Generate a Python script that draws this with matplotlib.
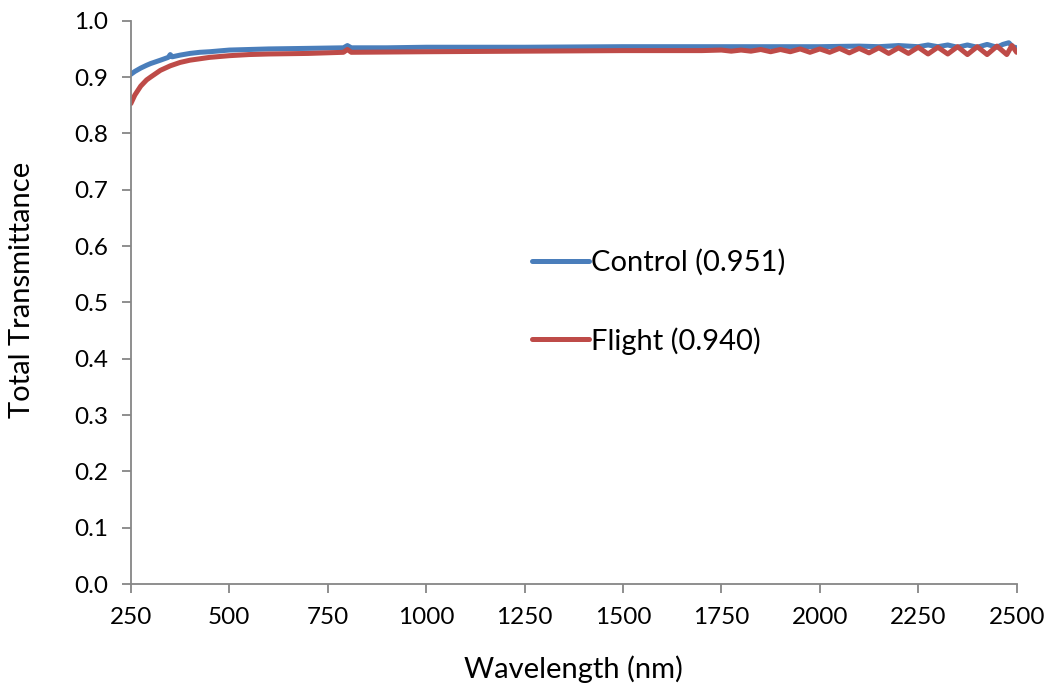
import matplotlib.pyplot as plt

# Spectral data (wavelength in nm, total transmittance)
control_wl = [250, 260, 275, 290, 300, 325, 345, 350, 355, 375, 400, 425, 450, 500,
              550, 600, 700, 790, 800, 810, 900, 1000, 1250, 1500, 1750, 2000,
              2100, 2150, 2200, 2250, 2275, 2300, 2325, 2350, 2375, 2400, 2425,
              2450, 2465, 2480, 2490, 2500]
control_t = [0.905, 0.910, 0.916, 0.921, 0.924, 0.930, 0.935, 0.940, 0.936, 0.939,
             0.942, 0.944, 0.945, 0.948, 0.949, 0.950, 0.951, 0.952, 0.956, 0.952,
             0.952, 0.953, 0.953, 0.954, 0.954, 0.954, 0.955, 0.954, 0.956, 0.954,
             0.957, 0.954, 0.957, 0.953, 0.957, 0.953, 0.958, 0.953, 0.958, 0.961,
             0.954, 0.952]

flight_wl = [250, 260, 275, 290, 300, 325, 350, 375, 400, 450, 500, 550, 600, 700,
             790, 800, 810, 1000, 1250, 1500, 1700, 1750, 1775, 1800, 1825, 1850,
             1875, 1900, 1925, 1950, 1975, 2000, 2025, 2050, 2075, 2100, 2125, 2150,
             2175, 2200, 2225, 2250, 2275, 2300, 2325, 2350, 2375, 2400, 2425, 2450,
             2475, 2488, 2500]
flight_t = [0.853, 0.868, 0.884, 0.895, 0.900, 0.912, 0.920, 0.926, 0.930, 0.935,
            0.938, 0.940, 0.941, 0.942, 0.944, 0.949, 0.944, 0.945, 0.946, 0.947,
            0.947, 0.948, 0.946, 0.948, 0.946, 0.949, 0.945, 0.949, 0.945, 0.950,
            0.944, 0.950, 0.944, 0.951, 0.943, 0.951, 0.943, 0.952, 0.942, 0.952,
            0.942, 0.953, 0.941, 0.953, 0.941, 0.954, 0.940, 0.954, 0.940, 0.955,
            0.940, 0.956, 0.944]

x_ticks = [250, 500, 750, 1000, 1250, 1500, 1750, 2000, 2250, 2500]
y_ticks = [0.0, 0.1, 0.2, 0.3, 0.4, 0.5, 0.6, 0.7, 0.8, 0.9, 1.0]

plt.rcParams['font.family'] = ['Lato', 'DejaVu Sans']

fig = plt.figure(figsize=(10.47, 6.92), dpi=100)
ax = fig.add_axes([0.125, 0.156, 0.846, 0.814])

ax.plot(control_wl, control_t, color='#4a7ebb', lw=3.6, solid_joinstyle='round',
        solid_capstyle='round', label='Control (0.951)')
ax.plot(flight_wl, flight_t, color='#be4b48', lw=3.6, solid_joinstyle='round',
        solid_capstyle='round', label='Flight (0.940)')

ax.set_xlim(250, 2500)
ax.set_ylim(0, 1.0)
ax.set_xticks(x_ticks)
ax.set_xticklabels([str(t) for t in x_ticks])
ax.set_yticks(y_ticks)
ax.set_yticklabels([f'{t:.1f}' for t in y_ticks])

for side in ['top', 'right']:
    ax.spines[side].set_visible(False)
for side in ['left', 'bottom']:
    ax.spines[side].set_color('#868686')
    ax.spines[side].set_linewidth(1.3)
ax.tick_params(direction='out', length=6.5, width=1.3, color='#868686',
               labelsize=17.5, pad=10)

ax.set_xlabel('Wavelength (nm)', fontsize=21)
ax.set_ylabel('Total Transmittance', fontsize=21)
ax.xaxis.set_label_coords(0.5, -0.127)
ax.yaxis.set_label_coords(-0.108, 0.522)

ax.legend(loc='center left', bbox_to_anchor=(0.4526, 0.501), frameon=False,
          fontsize=21, handlelength=1.95, handletextpad=0.08, labelspacing=1.75,
          borderpad=0, borderaxespad=0)

fig.savefig('out.png', dpi=100)
